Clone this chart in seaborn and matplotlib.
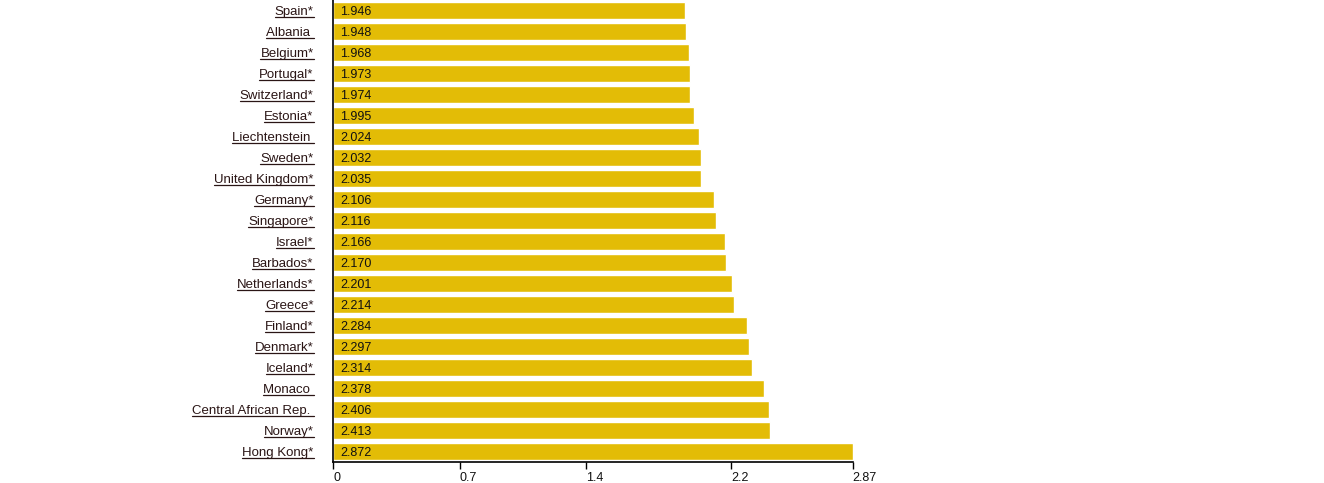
import matplotlib
matplotlib.use('Agg')
import matplotlib.pyplot as plt
import seaborn as sns
import pandas as pd
from matplotlib.lines import Line2D

countries = ['Spain*', 'Albania ', 'Belgium*', 'Portugal*', 'Switzerland*', 'Estonia*',
             'Liechtenstein ', 'Sweden*', 'United Kingdom*', 'Germany*', 'Singapore*',
             'Israel*', 'Barbados*', 'Netherlands*', 'Greece*', 'Finland*', 'Denmark*',
             'Iceland*', 'Monaco ', 'Central African Rep. ', 'Norway*', 'Hong Kong*']
values = [1.946, 1.948, 1.968, 1.973, 1.974, 1.995, 2.024, 2.032, 2.035, 2.106, 2.116,
          2.166, 2.170, 2.201, 2.214, 2.284, 2.297, 2.314, 2.378, 2.406, 2.413, 2.872]
xticks = [0, 0.7, 1.4, 2.2, 2.87]

df = pd.DataFrame({'country': countries, 'value': values})

sns.set_style('white')
plt.rcParams['font.family'] = ['Liberation Sans', 'DejaVu Sans']

fig = plt.figure(figsize=(13.24, 4.83), dpi=100)
ax = fig.add_axes([333 / 1324, 1 - 462 / 483, (853 - 333) / 1324, 462 / 483])

sns.barplot(data=df, x='value', y='country', color='#E3BC06', saturation=1,
            width=0.82, ax=ax)

ax.set_xlim(0, 2.872)
ax.set_ylim(len(countries) - 0.5, -0.5)
ax.set_xlabel('')
ax.set_ylabel('')

for i, v in enumerate(values):
    ax.text(0.04, i, f'{v:.3f}', va='center_baseline', ha='left', fontsize=9, color='#111111')

ax.set_xticks(xticks)
ax.set_xticklabels(['0', '0.7', '1.4', '2.2', '2.87'], ha='left', fontsize=9, color='#111111')
ax.tick_params(axis='x', length=5, width=1, color='black', pad=2, bottom=True)
ax.tick_params(axis='y', length=0, pad=14, labelsize=9.5, labelcolor='#2a1515')

for s in ['top', 'right']:
    ax.spines[s].set_visible(False)
for s in ['left', 'bottom']:
    ax.spines[s].set_color('black')
    ax.spines[s].set_linewidth(1.2)

# underline the country labels
fig.canvas.draw()
renderer = fig.canvas.get_renderer()
W, H = fig.bbox.width, fig.bbox.height
for lab in ax.get_yticklabels():
    bb = lab.get_window_extent(renderer)
    y = bb.y0 + 1.5
    fig.add_artist(Line2D([bb.x0 / W, bb.x1 / W], [y / H, y / H],
                          transform=fig.transFigure, color='#2a1515', lw=0.9))

fig.savefig('out.png', dpi=100)
